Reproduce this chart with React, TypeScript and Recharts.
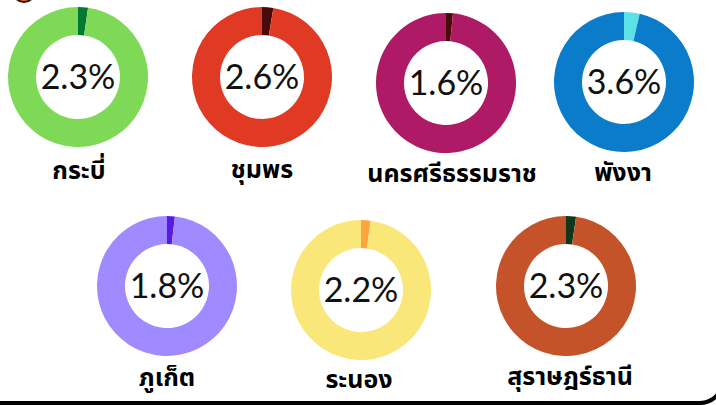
import React from 'react';
import { PieChart, Pie, Cell, Label } from 'recharts';

// southern provinces, share in percent
const provinces = ['กระบี่', 'ชุมพร', 'นครศรีธรรมราช', 'พังงา', 'ภูเก็ต', 'ระนอง', 'สุราษฎร์ธานี'];
const shares = [2.3, 2.6, 1.6, 3.6, 1.8, 2.2, 2.3];
const mainColors = ['#7ED957', '#E03A25', '#AF1A66', '#0A7CC9', '#9F8AFF', '#FAE77A', '#C4532A'];
const sliceColors = ['#007A33', '#4A0A0A', '#4A0A0A', '#5CE1E6', '#5A1AE6', '#FFA53F', '#10371A'];

// layout (donut centres on the page)
const posX = [78, 262, 446, 624, 167, 361, 566];
const posY = [77, 77, 83, 82, 286, 290, 286];
const nameDx = [1, 0, 6, -1, 0, -2, 4];
const nameDy = [102, 101, 99, 99, 100, 98, 99];

const W = 260;
const H = 210;
const CX = 130;
const CY = 80;

const Donut: React.FC<{ i: number }> = ({ i }) => {
  const data = [
    { name: 'share', value: shares[i] },
    { name: 'rest', value: 100 - shares[i] },
  ];
  return (
    <div style={{ position: 'absolute', left: posX[i] - CX, top: posY[i] - CY }}>
      <PieChart width={W} height={H} margin={{ top: 0, right: 0, bottom: 0, left: 0 }}>
        <Pie
          data={data}
          dataKey="value"
          cx={CX}
          cy={CY}
          innerRadius={42}
          outerRadius={70}
          startAngle={90}
          endAngle={-270}
          stroke="none"
          isAnimationActive={false}
        >
          <Cell fill={sliceColors[i]} />
          <Cell fill={mainColors[i]} />
          <Label
            position="center"
            content={() => (
              <g>
                <text
                  x={CX}
                  y={CY + 12}
                  textAnchor="middle"
                  fontFamily="Lato, 'Noto Sans', sans-serif"
                  fontWeight={400}
                  fontSize={34}
                  fill="#111"
                >
                  {shares[i].toFixed(1) + '%'}
                </text>
                <text
                  x={CX + nameDx[i]}
                  y={CY + nameDy[i]}
                  textAnchor="middle"
                  fontFamily="'Noto Sans Thai', 'Noto Sans', sans-serif"
                  fontWeight={700}
                  fontSize={25}
                  fill="#000"
                >
                  {provinces[i]}
                </text>
              </g>
            )}
          />
        </Pie>
      </PieChart>
    </div>
  );
};

export default function App() {
  return (
    <div
      style={{
        position: 'absolute',
        left: 0,
        top: 0,
        width: 716,
        height: 405,
        overflow: 'hidden',
        background: '#fff',
      }}
    >
      {/* frame pieces cut by the crop */}
      <svg width={716} height={405} style={{ position: 'absolute', left: 0, top: 0 }}>
        <path
          d="M -10 403 H 700 A 23 23 0 0 0 723 380 V 300"
          fill="none"
          stroke="#000"
          strokeWidth={4}
        />
        <circle cx={24} cy={-9} r={11} fill="#F26B2A" stroke="#2a1208" strokeWidth={2} />
      </svg>
      {provinces.map((_, i) => (
        <Donut key={provinces[i]} i={i} />
      ))}
    </div>
  );
}
